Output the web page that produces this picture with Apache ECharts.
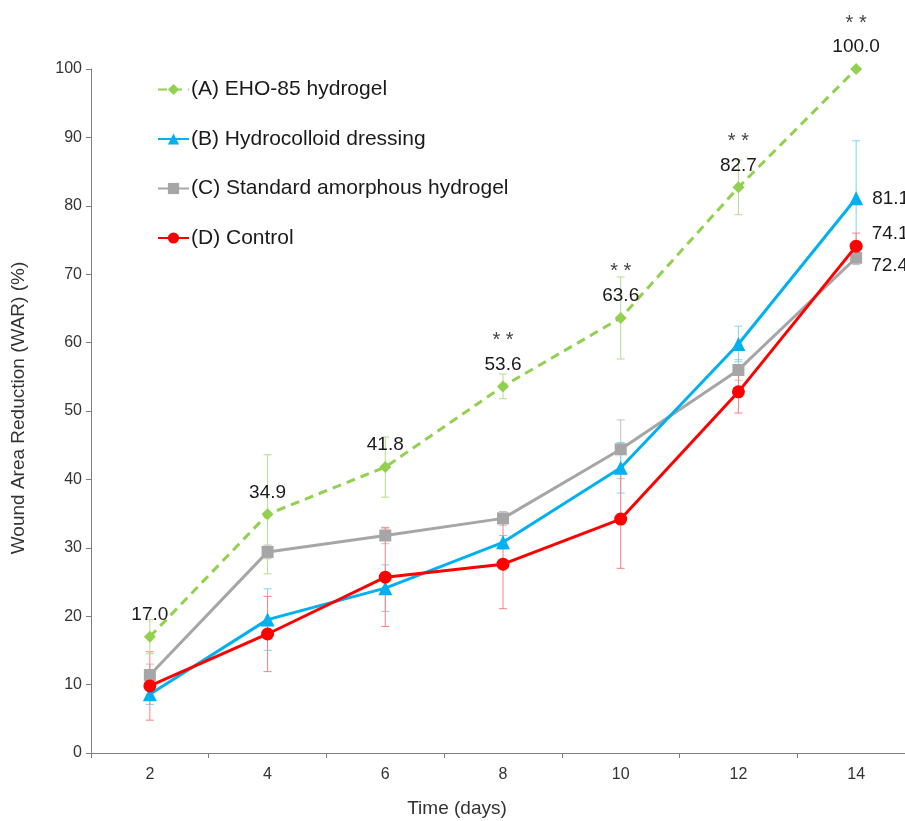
<!DOCTYPE html>
<html><head><meta charset="utf-8">
<script src="https://cdn.jsdelivr.net/npm/echarts@6/dist/echarts.min.js"></script>
<style>html,body{margin:0;padding:0;background:#fff;overflow:hidden;width:905px;height:821px}#c{width:915px;height:821px}</style>
</head><body><div id="c"></div>
<script>
const days = ['2','4','6','8','10','12','14'];
const seriesNames = ['(A) EHO-85 hydrogel','(B) Hydrocolloid dressing','(C) Standard amorphous hydrogel','(D) Control'];
const valA = [17.0, 34.9, 41.8, 53.6, 63.6, 82.7, 100.0];
const valB = [8.6, 19.5, 24.1, 30.8, 41.7, 59.8, 81.1];
const valC = [11.4, 29.4, 31.8, 34.3, 44.4, 56.0, 72.4];
const valD = [9.8, 17.4, 25.7, 27.6, 34.2, 52.8, 74.1];
const errA = [2.5, 8.7, 4.4, 1.8, 6.0, 4.0, 0];
const errB = [1.5, 4.5, 3.4, 1.0, 3.7, 2.6, 8.4];
const errC = [1.6, 1.0, 1.2, 1.0, 4.3, 1.5, 1.0];
const errD = [5.0, 5.5, 7.2, 6.5, 7.2, 3.1, 1.9];
const sigA = ['', '', '', '* *', '* *', '* *', '* *'];
const yTicks = [0, 10, 20, 30, 40, 50, 60, 70, 80, 90, 100];

const colA = '#92d050', colB = '#00b0f0', colC = '#a6a6a6', colD = '#ff0000';
const FONT = 'Liberation Sans, Arial, sans-serif';

function errData(vals, errs) {
  return vals.map((v, i) => [i, v - errs[i], v + errs[i]]);
}
function errSeries(vals, errs, color, z) {
  return {
    type: 'custom', z: z, silent: true,
    data: errData(vals, errs),
    encode: { x: 0, y: [1, 2] },
    renderItem: function (params, api) {
      const lo = api.coord([api.value(0), api.value(1)]);
      const hi = api.coord([api.value(0), api.value(2)]);
      const w = 4;
      const st = { stroke: color, lineWidth: 1 };
      return { type: 'group', children: [
        { type: 'line', shape: { x1: lo[0], y1: lo[1], x2: hi[0], y2: hi[1] }, style: st },
        { type: 'line', shape: { x1: lo[0] - w, y1: lo[1], x2: lo[0] + w, y2: lo[1] }, style: st },
        { type: 'line', shape: { x1: hi[0] - w, y1: hi[1], x2: hi[0] + w, y2: hi[1] }, style: st }
      ]};
    }
  };
}

const chart = echarts.init(document.getElementById('c'), null, { renderer: 'canvas' });
const lastOnly = (vals, extra) => vals.map((v, i) => i === vals.length - 1 ? { value: v, label: Object.assign({ show: true }, extra) } : v);
const valLabel = { show: false, fontSize: 19, color: '#1a1a1a', fontFamily: FONT, formatter: p => p.value.toFixed(1) };

chart.setOption({
  animation: false,
  backgroundColor: '#fff',
  textStyle: { fontFamily: FONT },
  grid: { left: 91, top: 69, right: 0, bottom: 68 },
  legend: {
    left: 157, top: 79, orient: 'vertical', itemGap: 28.5, itemWidth: 31, itemHeight: 14, padding: 0,
    textStyle: { fontSize: 21, color: '#1a1a1a', fontFamily: FONT, padding: [0, 0, 0, -3] },
    data: seriesNames
  },
  xAxis: {
    type: 'category', data: days, boundaryGap: true,
    axisLine: { lineStyle: { color: '#7f7f7f', width: 1 } },
    axisTick: { show: true, length: 5, lineStyle: { color: '#7f7f7f' } },
    axisLabel: { fontSize: 16, color: '#333', margin: 14, fontFamily: FONT }
  },
  yAxis: {
    type: 'value', min: 0, max: 100, interval: 10,
    axisLine: { show: true, lineStyle: { color: '#7f7f7f', width: 1 } },
    axisTick: { show: true, length: 5, lineStyle: { color: '#7f7f7f' } },
    splitLine: { show: false },
    axisLabel: { fontSize: 16, color: '#333', margin: 9, fontFamily: FONT,
      formatter: v => yTicks.includes(v) ? String(v) : '' }
  },
  graphic: [
    { type: 'text', x: 457, y: 809, style: { text: 'Time (days)', font: '19px ' + FONT, fill: '#333', textAlign: 'center', textVerticalAlign: 'middle' } },
    { type: 'text', x: 19, y: 408, rotation: Math.PI / 2, style: { text: 'Wound Area Reduction (WAR) (%)', font: '19px ' + FONT, fill: '#333', textAlign: 'center', textVerticalAlign: 'middle' } }
  ],
  series: [
    errSeries(valC, errC, '#c0c0c0', 1),
    errSeries(valB, errB, '#7fd3f5', 1),
    errSeries(valD, errD, '#ff7f7f', 1),
    errSeries(valA, errA, '#b4dd8c', 1),
    {
      name: seriesNames[2], type: 'line', data: lastOnly(valC, { position: 'right', offset: [4, 8] }), z: 3,
      symbol: 'rect', symbolSize: 12, lineStyle: { color: colC, width: 3 }, itemStyle: { color: colC },
      label: valLabel
    },
    {
      name: seriesNames[1], type: 'line', data: lastOnly(valB, { position: 'right', offset: [4, 0] }), z: 4,
      symbol: 'triangle', symbolSize: 14, lineStyle: { color: colB, width: 3 }, itemStyle: { color: colB },
      label: valLabel
    },
    {
      name: seriesNames[3], type: 'line', data: lastOnly(valD, { position: 'right', offset: [4, -12] }), z: 5,
      symbol: 'circle', symbolSize: 13, lineStyle: { color: colD, width: 3 }, itemStyle: { color: colD },
      label: valLabel
    },
    {
      name: seriesNames[0], type: 'line', data: valA, z: 6,
      symbol: 'diamond', symbolSize: 12, lineStyle: { color: colA, width: 3, type: [9, 6] }, itemStyle: { color: colA },
      label: {
        show: true, position: 'top', distance: 6, fontFamily: FONT,
        formatter: p => (sigA[p.dataIndex] ? '{s|' + sigA[p.dataIndex] + '}\n' : '') + '{v|' + p.value.toFixed(1) + '}',
        rich: {
          s: { fontSize: 20, color: '#444', lineHeight: 28, fontFamily: FONT, align: 'center' },
          v: { fontSize: 19, color: '#1a1a1a', lineHeight: 20, fontFamily: FONT, align: 'center' }
        }
      }
    }
  ]
});
</script></body></html>
